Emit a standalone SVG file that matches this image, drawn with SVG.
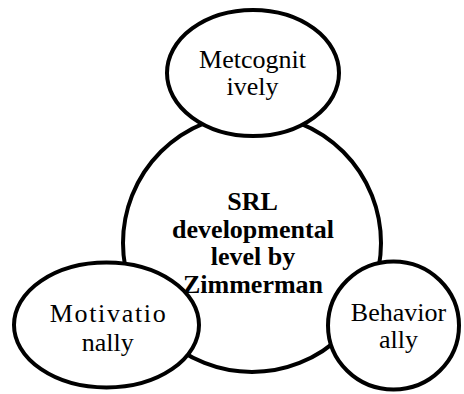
<svg xmlns="http://www.w3.org/2000/svg" width="464" height="394" viewBox="0 0 464 394">
  <style>
    .shape { fill: #ffffff; stroke: #000000; stroke-width: 4; }
    .label { font-family: "Liberation Serif", "Times New Roman", serif; font-size: 26px; fill: #000000; text-anchor: middle; }
    .bold { font-weight: bold; }
  </style>
  <rect width="464" height="394" fill="#ffffff"/>

  <!-- central concept -->
  <g id="node-srl">
    <circle class="shape" cx="252" cy="243" r="129"/>
  </g>

  <!-- dimensions around the centre -->
  <g id="node-metacognitive">
    <ellipse class="shape" cx="253" cy="73" rx="86" ry="63"/>
    <text class="label" x="252.5" y="68">Metcognit</text>
    <text class="label" x="252.5" y="95">ively</text>
  </g>
  <g id="node-motivational">
    <ellipse class="shape" cx="106.5" cy="325" rx="92.5" ry="62.5"/>
    <text class="label" x="107.7" y="321.5" textLength="116" lengthAdjust="spacing">Motivatio</text>
    <text class="label" x="107.7" y="351">nally</text>
  </g>
  <g id="node-behavioral">
    <ellipse class="shape" cx="393.5" cy="325.5" rx="65.5" ry="64"/>
    <text class="label" x="398.5" y="320.5">Behavior</text>
    <text class="label" x="398.5" y="348">ally</text>
  </g>

  <!-- central label, drawn on top -->
  <g id="label-srl">
    <text class="label bold" x="252.5" y="210">SRL</text>
    <text class="label bold" x="253" y="237.5">developmental</text>
    <text class="label bold" x="253" y="265">level by</text>
    <text class="label bold" x="253" y="292.5">Zimmerman</text>
  </g>

  <g id="connectors"/>
</svg>
